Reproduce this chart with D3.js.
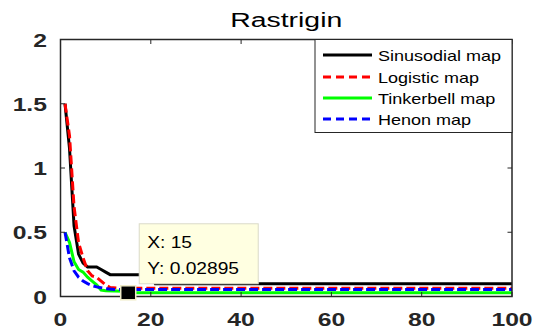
<!DOCTYPE html>
<html>
<head>
<meta charset="utf-8">
<script src="https://cdn.jsdelivr.net/npm/d3@7"></script>
<style>
  body { margin: 0; background: #fff; }
  text { font-family: "Liberation Sans", Arial, sans-serif; }
</style>
</head>
<body>
<svg id="chart" width="534" height="336"></svg>
<script>
// data (iteration, best value)
var seriesNames = ["Sinusodial map", "Logistic map", "Tinkerbell map", "Henon map"];
var sinusoidalIter = [1, 2, 3, 4, 5, 6, 8, 9, 10, 11, 20, 21, 100];
var sinusoidalVal  = [1.5, 1.15, 0.55, 0.33, 0.26, 0.23, 0.23, 0.21, 0.19, 0.17, 0.17, 0.1, 0.1];
var logisticIter   = [1, 2, 3, 4, 5, 6, 7, 8, 9, 10, 11, 13, 100];
var logisticVal    = [1.5, 1.25, 0.7, 0.42, 0.3, 0.2, 0.16, 0.15, 0.12, 0.09, 0.07, 0.065, 0.065];
var tinkerbellIter = [1, 2, 3, 4, 5, 6, 7, 8, 9, 10, 14, 15, 100];
var tinkerbellVal  = [0.5, 0.42, 0.27, 0.21, 0.19, 0.15, 0.12, 0.09, 0.05, 0.045, 0.04, 0.02895, 0.02895];
var henonIter      = [1, 2, 3, 4, 5, 6, 7, 8, 10, 12, 100];
var henonVal       = [0.5, 0.3, 0.2, 0.15, 0.12, 0.1, 0.085, 0.075, 0.06, 0.055, 0.055];
var xTicks = [0, 20, 40, 60, 80, 100];
var yTicks = [0, 0.5, 1, 1.5, 2];
var tipX = 15, tipY = 0.02895;

var colors = ["#000000", "#ff0000", "#00ff00", "#0000ff"];
var dashes = [null, "9,4", null, "9,4"];

var svg = d3.select("#chart");
svg.append("rect").attr("width", 534).attr("height", 336).attr("fill", "#fff");

// plot area
var plotLeft = 60.5, plotRight = 512, plotTop = 39.5, plotBottom = 296.5;

var x = d3.scaleLinear().domain([0, 100]).range([plotLeft, plotRight]);
var y = d3.scaleLinear().domain([0, 2]).range([plotBottom, plotTop]);

// stretch text horizontally like the reference
function stretch(sel, k) {
  sel.each(function() {
    var w = this.getComputedTextLength();
    d3.select(this).attr("textLength", w * k).attr("lengthAdjust", "spacingAndGlyphs");
  });
}

// lines
var allData = [
  d3.zip(sinusoidalIter, sinusoidalVal),
  d3.zip(logisticIter, logisticVal),
  d3.zip(tinkerbellIter, tinkerbellVal),
  d3.zip(henonIter, henonVal)
];

var line = d3.line()
  .x(function(d) { return x(d[0]); })
  .y(function(d) { return y(d[1]); });

var plot = svg.append("g").attr("class", "plot");
allData.forEach(function(pts, i) {
  plot.append("path")
    .datum(pts)
    .attr("d", line)
    .attr("fill", "none")
    .attr("stroke", colors[i])
    .attr("stroke-width", 3)
    .attr("stroke-dasharray", dashes[i])
    .attr("stroke-linejoin", "miter");
});

// axes box with inward ticks
var axisG = svg.append("g").attr("class", "axis");
axisG.append("rect")
  .attr("x", plotLeft).attr("y", plotTop)
  .attr("width", plotRight - plotLeft).attr("height", plotBottom - plotTop)
  .attr("fill", "none").attr("stroke", "#262626").attr("stroke-width", 1.5);

xTicks.forEach(function(t) {
  axisG.append("line").attr("x1", x(t)).attr("x2", x(t)).attr("y1", plotBottom).attr("y2", plotBottom - 4.5)
    .attr("stroke", "#262626");
  axisG.append("line").attr("x1", x(t)).attr("x2", x(t)).attr("y1", plotTop).attr("y2", plotTop + 4.5)
    .attr("stroke", "#262626");
});
yTicks.forEach(function(t) {
  axisG.append("line").attr("x1", plotLeft).attr("x2", plotLeft + 4.5).attr("y1", y(t)).attr("y2", y(t))
    .attr("stroke", "#262626");
  axisG.append("line").attr("x1", plotRight).attr("x2", plotRight - 4.5).attr("y1", y(t)).attr("y2", y(t))
    .attr("stroke", "#262626");
});

var xLab = axisG.selectAll(".xl").data(xTicks).enter().append("text")
  .attr("class", "xl")
  .attr("x", function(d) { return x(d); })
  .attr("y", 326)
  .attr("text-anchor", "middle")
  .attr("font-size", "19px")
  .attr("font-weight", "bold")
  .attr("fill", "#262626")
  .text(function(d) { return d; });
stretch(xLab, 1.3);

var yLab = axisG.selectAll(".yl").data(yTicks).enter().append("text")
  .attr("class", "yl")
  .attr("x", 47)
  .attr("y", function(d) { return y(d) + 7; })
  .attr("text-anchor", "end")
  .attr("font-size", "19px")
  .attr("font-weight", "bold")
  .attr("fill", "#262626")
  .text(function(d) { return d; });
stretch(yLab, 1.3);

// title
var title = svg.append("text")
  .attr("x", (plotLeft + plotRight) / 2)
  .attr("y", 27)
  .attr("text-anchor", "middle")
  .attr("font-size", "20px")
  .attr("fill", "#000")
  .text("Rastrigin");
stretch(title, 1.42);

// legend
var legend = svg.append("g").attr("class", "legend");
legend.append("rect")
  .attr("x", 315).attr("y", plotTop)
  .attr("width", plotRight - 315).attr("height", 93)
  .attr("fill", "#fff").attr("stroke", "#262626").attr("stroke-width", 1);

var rowY = [55, 77, 98, 119];
seriesNames.forEach(function(name, i) {
  legend.append("line")
    .attr("x1", 323).attr("x2", 372)
    .attr("y1", rowY[i]).attr("y2", rowY[i])
    .attr("stroke", colors[i]).attr("stroke-width", 3)
    .attr("stroke-dasharray", dashes[i] ? "8,5" : null);
  var t = legend.append("text")
    .attr("x", 378).attr("y", rowY[i] + 5.5)
    .attr("font-size", "15px")
    .attr("fill", "#000")
    .text(name);
  stretch(t, 1.2);
});

// data tip at (15, 0.02895)
var tip = svg.append("g").attr("class", "datatip");
var mx = x(tipX), my = y(tipY);
tip.append("rect")
  .attr("x", mx + 11).attr("y", my - 69)
  .attr("width", 119).attr("height", 60)
  .attr("fill", "#ffffe1").attr("stroke", "#dadac8").attr("stroke-width", 1);
var t1 = tip.append("text").attr("x", mx + 19).attr("y", my - 45)
  .attr("font-size", "16px").attr("fill", "#000").text("X: " + tipX);
var t2 = tip.append("text").attr("x", mx + 19).attr("y", my - 19)
  .attr("font-size", "16px").attr("fill", "#000").text("Y: " + tipY);
stretch(t1, 1.2);
stretch(t2, 1.2);
tip.append("rect")
  .attr("x", mx - 7.5).attr("y", my - 7)
  .attr("width", 15).attr("height", 14)
  .attr("fill", "#000").attr("stroke", "#f0ecc8").attr("stroke-width", 1.5);
</script>
</body>
</html>
